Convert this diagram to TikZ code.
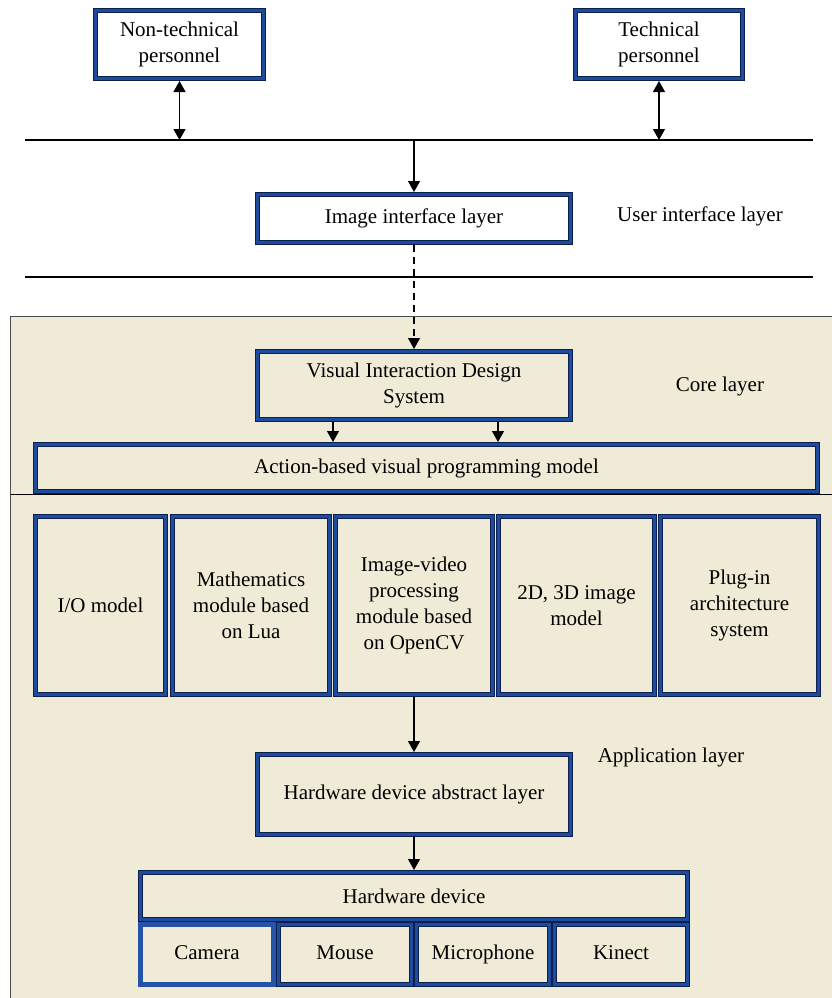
\documentclass[tikz,border=0pt]{standalone}
\usepackage{fontspec}
\setmainfont{Liberation Serif}
\usepackage{tikz}
\usetikzlibrary{arrows.meta}
\definecolor{bandblue}{HTML}{1D4C9C}
\definecolor{edgenavy}{HTML}{0B1E4E}
\definecolor{camblue}{HTML}{2453A8}
\definecolor{paper}{HTML}{F0EBD6}

\begin{document}
\begin{tikzpicture}[x=1pt, y=-1pt, font=\fontsize{21}{26}\selectfont,
            blk/.style={draw=edgenavy, line width=0.8pt, double=bandblue, double distance=3.4pt,
                fill=paper, align=center, inner sep=0, outer sep=2.5pt},
            cambox/.style={draw=camblue, line width=4.6pt, fill=paper, align=center, inner sep=0, outer sep=2.3pt},
            arr/.style={-{Triangle[width=12pt,length=11pt]}, line width=1.2pt},
            dbl/.style={{Triangle[width=12pt,length=11pt]}-{Triangle[width=12pt,length=11pt]}, line width=1.2pt}]
            \useasboundingbox (0,0) rectangle (831,998);

            % User interface layer
            \node[blk, fill=white, minimum width=168, minimum height=68] (nontech) at (179.5,44.5) {Non-technical\\personnel};
            \node[blk, fill=white, minimum width=167, minimum height=68] (tech) at (659,44.5) {Technical\\personnel};
            \coordinate (topW) at (25,140);
            \coordinate (topE) at (813,140);
            \draw[line width=1.2pt] (topW) -- (topE);
            \draw[dbl] (nontech.south) -- (nontech.south |- topW);
            \draw[dbl] (tech.south) -- (tech.south |- topW);
            \node[blk, fill=white, minimum width=313, minimum height=48] (imgif) at (414,218.5) {Image interface layer};
            \draw[arr] (imgif.north |- topW) -- (imgif.north);
            \node (uilab) at (700,216) {User interface layer};
            \coordinate (midW) at (25,277);
            \coordinate (midE) at (813,277);
            \draw[line width=1.2pt] (midW) -- (midE);

            % Core layer
            \fill[paper, draw=black!70, line width=0.8pt] (10.5,316) rectangle (845,1010);
            \node[blk, minimum width=313, minimum height=68] (vids) at (414,385.5) {Visual Interaction Design\\System};
            \draw[arr, dashed, dash pattern=on 7pt off 5pt] (imgif.south) -- (vids.north);
            \node (corelab) at (720,386) {Core layer};
            \node[blk, minimum width=782, minimum height=47] (action) at (426.5,468) {Action-based visual programming model};
            \draw[arr] ([xshift=-81pt]vids.south) -- ([xshift=-81pt]vids.south |- action.north);
            \draw[arr] ([xshift=84pt]vids.south) -- ([xshift=84pt]vids.south |- action.north);
            \draw[line width=0.8pt] (10.5,494) -- (845,494);

            % Application layer
            \foreach \cx/\w/\nm/\txt in {100.5/130/io/{I/O model},
                    251/157/math/{Mathematics\\module based\\on Lua},
                    414/157/imgvid/{Image-video\\processing\\module based\\on OpenCV},
                    576.5/156/dimg/{2D, 3D image\\model},
                    739.5/158/plugin/{Plug-in\\architecture\\system}} {
                \node[blk, minimum width=\w, minimum height=178] (\nm) at (\cx,605.5) {\txt};
            }
            \node[blk, minimum width=313, minimum height=80] (hdal) at (414,794.5) {Hardware device abstract layer};
            \draw[arr] (imgvid.south) -- (hdal.north);
            \node (applab) at (671,757) {Application layer};
            \node[blk, minimum width=547, minimum height=47] (hwdev) at (414,896) {Hardware device};
            \draw[arr] (hdal.south) -- (hwdev.north);
            \foreach \cx/\nm/\txt/\st in {207/camera/Camera/cambox, 345/mouse/Mouse/blk,
                    483/mic/Microphone/blk, 621/kinect/Kinect/blk} {
                \node[\st, minimum width=133, minimum height=60, text height=14pt, text depth=4pt] (\nm) at (\cx,954.5) {\txt};
            }
\end{tikzpicture}
\end{document}
